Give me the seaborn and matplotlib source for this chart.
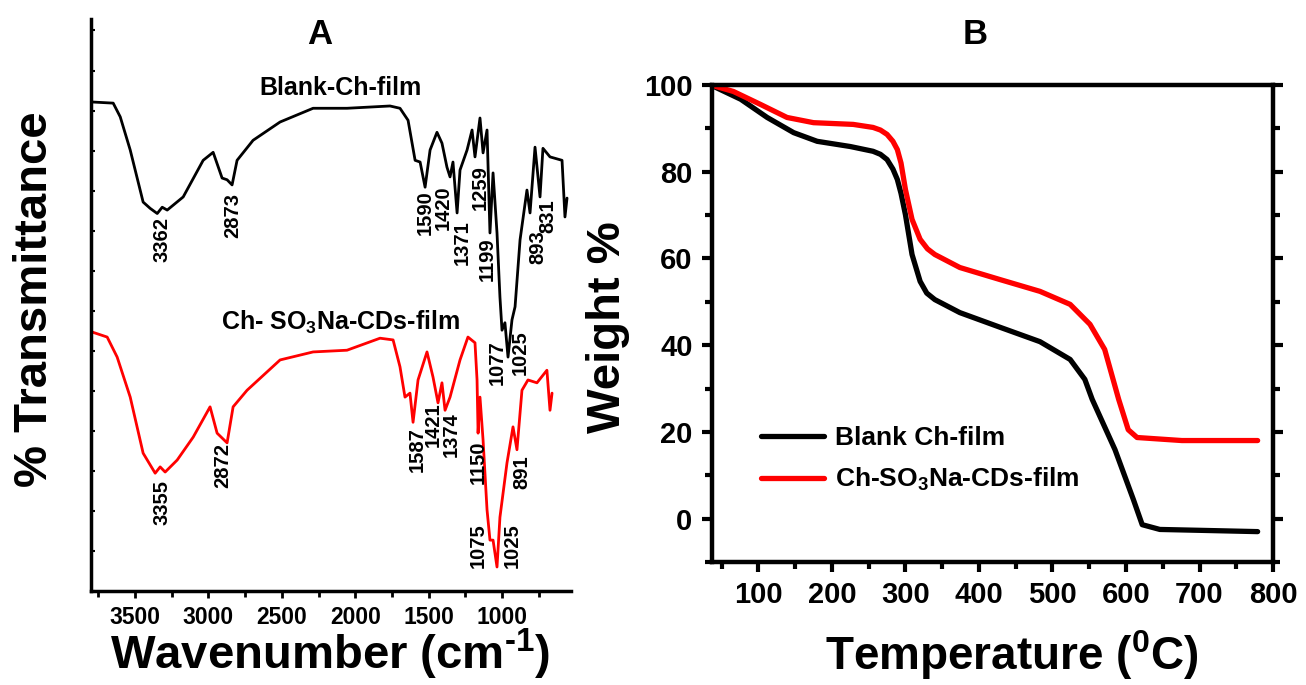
import numpy as np
import pandas as pd
import matplotlib
matplotlib.use("Agg")
import matplotlib.pyplot as plt
import seaborn as sns
from matplotlib.ticker import MultipleLocator

# --- data: FTIR spectra (panel A) ---
wn_blank = [3795, 3649, 3601, 3533, 3445, 3397, 3349, 3315, 3281, 3172, 3036, 2968, 2907, 2873,
            2839, 2805, 2696, 2512, 2287, 2056, 1763, 1695, 1640, 1592, 1558, 1524, 1490, 1443,
            1409, 1375, 1354, 1334, 1306, 1286, 1238, 1204, 1184, 1150, 1129, 1102, 1082, 1061,
            1034, 1014, 1000, 980, 959, 932, 911, 877, 830, 809, 775, 741, 721, 673, 591, 571, 557]
tr_blank = [85.5, 85.3, 82.9, 77.1, 68.0, 66.9, 66.0, 67.1, 66.6, 68.9, 75.3, 76.7, 72.2, 71.9,
            71.0, 75.3, 78.8, 82.0, 84.4, 84.4, 84.8, 84.4, 82.3, 75.3, 75.0, 70.6, 77.1, 80.2,
            78.3, 74.1, 72.4, 75.0, 66.1, 73.6, 77.1, 80.6, 75.9, 82.7, 76.6, 80.6, 62.6, 73.1,
            62.6, 51.4, 45.6, 46.9, 40.9, 47.4, 49.7, 61.4, 70.1, 66.1, 77.6, 68.9, 77.4, 75.9, 75.3, 65.4, 68.7]

wn_cd = [3795, 3690, 3622, 3533, 3445, 3363, 3329, 3295, 3213, 3104, 2989, 2941, 2873, 2832,
         2737, 2512, 2287, 2056, 1831, 1742, 1695, 1661, 1627, 1606, 1572, 1511, 1470, 1436,
         1409, 1388, 1354, 1286, 1232, 1184, 1170, 1163, 1150, 1129, 1102, 1082, 1061, 1034,
         1014, 966, 925, 898, 864, 823, 762, 694, 673, 659]
tr_cd = [45.3, 44.4, 40.9, 33.9, 24.1, 20.6, 21.7, 20.8, 22.9, 26.9, 32.2, 27.6, 25.9, 32.2,
         35.1, 40.4, 41.8, 42.1, 44.2, 43.9, 39.2, 33.9, 34.6, 29.5, 36.9, 41.8, 37.4, 32.9,
         36.4, 31.6, 33.9, 40.4, 44.4, 43.4, 36.9, 27.6, 33.9, 26.4, 14.2, 8.9, 8.9, 4.2,
         12.9, 22.4, 28.7, 24.7, 35.1, 36.9, 36.4, 38.6, 31.6, 34.6]

# peak labels: (text, wavenumber, transmittance at top of label)
peaks_blank = [("3362", 3315, 65.4), ("2873", 2832, 69.6), ("1590", 1524, 70.1),
               ("1420", 1402, 71.0), ("1371", 1272, 64.9), ("1259", 1150, 74.5),
               ("1199", 1102, 61.9), ("1077", 1034, 43.9), ("1025", 877, 45.6),
               ("893", 755, 63.1), ("831", 687, 68.4)]
peaks_cd = [("3355", 3315, 19.4), ("2872", 2900, 25.9), ("1587", 1579, 28.7),
            ("1421", 1470, 32.9), ("1374", 1347, 31.3), ("1150", 1163, 26.4),
            ("891", 864, 23.8), ("1075", 1163, 11.9), ("1025", 932, 11.9)]

# --- data: TGA (panel B) ---
temp_blank = [35, 76, 112, 148, 180, 225, 256, 266, 275, 283, 289, 294, 300, 309, 320, 329, 340, 374,
              429, 483, 524, 544, 554, 585, 610, 622, 646, 700, 779]
wt_blank = [100, 96.7, 92.5, 89.0, 87.0, 85.8, 84.7, 84.0, 82.8, 80.6, 78.2, 75.0, 70.1, 60.9, 54.7,
            52.0, 50.5, 47.5, 44.1, 40.8, 36.7, 32.1, 27.5, 15.9, 4.4, -1.4, -2.5, -2.7, -3.0]
temp_cd = [35, 66, 103, 139, 175, 229, 256, 266, 275, 283, 289, 294, 300, 309, 320, 330, 340, 374,
           429, 483, 524, 551, 571, 590, 603, 615, 676, 779]
wt_cd = [100, 98.5, 95.5, 92.5, 91.3, 90.9, 90.2, 89.6, 88.6, 87.0, 85.1, 82.0, 75.9, 69.0, 64.4,
         62.2, 60.9, 57.9, 55.1, 52.4, 49.4, 44.8, 39.0, 27.5, 20.5, 18.7, 18.0, 18.0]

sns.set_style("ticks")
plt.rcParams['font.family'] = ['Liberation Sans', 'DejaVu Sans']
plt.rcParams['font.weight'] = 'bold'
plt.rcParams['text.color'] = 'black'
plt.rcParams['axes.labelcolor'] = 'black'
plt.rcParams['axes.edgecolor'] = 'black'
plt.rcParams['xtick.color'] = 'black'
plt.rcParams['ytick.color'] = 'black'
plt.rcParams['mathtext.fontset'] = 'custom'
plt.rcParams['mathtext.rm'] = 'Liberation Sans:bold'
plt.rcParams['mathtext.bf'] = 'Liberation Sans:bold'
plt.rcParams['mathtext.default'] = 'bf'

fig = plt.figure(figsize=(13.06, 6.85), dpi=100)
axA = fig.add_axes([0.0697, 0.1372, 0.3675, 0.8350])
axB = fig.add_axes([0.5452, 0.1796, 0.4296, 0.6964])

# ========== Panel A ==========
ir_b = pd.DataFrame({'wn': wn_blank, 'T': tr_blank})
ir_c = pd.DataFrame({'wn': wn_cd, 'T': tr_cd})
sns.lineplot(data=ir_b, x='wn', y='T', sort=False, estimator=None, color='black', lw=2.0, ax=axA)
sns.lineplot(data=ir_c, x='wn', y='T', sort=False, estimator=None, color='#ff0000', lw=2.0, ax=axA)
axA.set_xlim(3800, 530)
axA.set_ylim(0, 100)
axA.set_xlabel('')
axA.set_ylabel('')
for s in ['top', 'right']:
    axA.spines[s].set_visible(False)
for s in ['left', 'bottom']:
    axA.spines[s].set_linewidth(2.5)
axA.xaxis.set_major_locator(MultipleLocator(500))
axA.xaxis.set_minor_locator(MultipleLocator(250))
axA.yaxis.set_major_locator(MultipleLocator(7))
axA.set_yticklabels([])
axA.tick_params(axis='x', which='major', length=5, width=2, labelsize=16.5, pad=6)
axA.tick_params(axis='x', which='minor', length=4, width=2)
axA.tick_params(axis='y', which='major', direction='in', length=3, width=1.5)
for lab in axA.get_xticklabels():
    lab.set_fontweight('bold')

for txt, x, y in peaks_blank + peaks_cd:
    axA.text(x, y, txt, rotation=90, ha='center', va='top', fontsize=14.5, fontweight='bold')
axA.text(2103, 87.9, 'Blank-Ch-film', ha='center', va='center', fontsize=18, fontweight='bold')
axA.text(2103, 46.9, 'Ch- SO$_3$Na-CDs-film', ha='center', va='center', fontsize=18, fontweight='bold')

fig.text(0.245, 0.949, 'A', ha='center', va='center', fontsize=25, fontweight='bold')
fig.text(0.0268, 0.563, '% Transmittance', rotation=90, ha='center', va='center',
         fontsize=34, fontweight='bold')
fig.text(0.2527, 0.044, r'Wavenumber (cm$^{\text{-1}}$)', ha='center', va='center',
         fontsize=34, fontweight='bold')

# ========== Panel B ==========
tga = pd.concat([
    pd.DataFrame({'T': temp_blank, 'W': wt_blank, 'sample': 'Blank Ch-film'}),
    pd.DataFrame({'T': temp_cd, 'W': wt_cd, 'sample': 'Ch-SO$_3$Na-CDs-film'}),
])
sns.lineplot(data=tga, x='T', y='W', hue='sample', sort=False, estimator=None,
             palette=['black', '#ff0000'], lw=3.8, ax=axB)
for ln in axB.get_lines():
    ln.set_solid_joinstyle('round')
    ln.set_solid_capstyle('round')
axB.set_xlim(37, 800)
axB.set_ylim(-10, 100)
axB.set_xlabel('')
axB.set_ylabel('')
for s in axB.spines.values():
    s.set_linewidth(3.2)
axB.xaxis.set_minor_locator(MultipleLocator(50))
axB.yaxis.set_minor_locator(MultipleLocator(10))
axB.set_xticks([100, 200, 300, 400, 500, 600, 700, 800])
axB.set_yticks([0, 20, 40, 60, 80, 100])
axB.tick_params(which='major', length=7, width=3, labelsize=21, pad=7, right=True)
axB.tick_params(which='minor', length=5, width=3, right=True)
for lab in axB.get_xticklabels() + axB.get_yticklabels():
    lab.set_fontweight('bold')

leg = axB.legend(loc='upper left', bbox_to_anchor=(0.045, 0.335), frameon=False,
                 handlelength=2.4, handletextpad=0.4, labelspacing=0.6,
                 prop={'weight': 'bold', 'size': 19})

fig.text(0.7466, 0.949, 'B', ha='center', va='center', fontsize=25, fontweight='bold')
fig.text(0.4655, 0.523, 'Weight %', rotation=90, ha='center', va='center',
         fontsize=34, fontweight='bold')
fig.text(0.775, 0.044, 'Temperature ($^0$C)', ha='center', va='center',
         fontsize=33, fontweight='bold')

fig.savefig('out.png', dpi=100)
